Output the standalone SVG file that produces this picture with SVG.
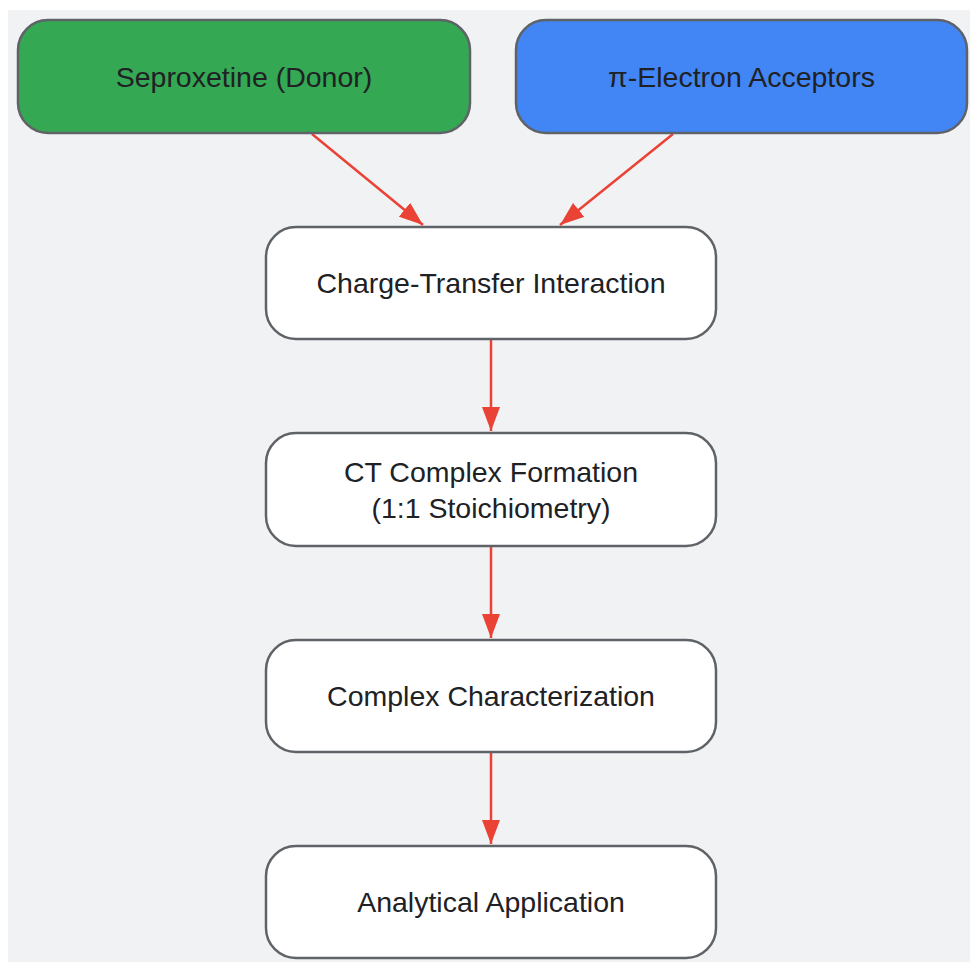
<svg xmlns="http://www.w3.org/2000/svg" width="970" height="962" viewBox="0 0 970 962">
<style>
.node rect{stroke:#5f6368;stroke-width:2.5}
.plain rect{fill:#ffffff}
text{font-family:"Liberation Sans",Arial,sans-serif;font-size:28.5px;fill:#202124;text-anchor:middle}
.edge{stroke:#ea4335;stroke-width:2.5;fill:none}
</style>
<defs>
<marker id="ah" markerUnits="userSpaceOnUse" markerWidth="24" markerHeight="18" refX="24" refY="9" orient="auto">
<path d="M0,0 L24,9 L0,18 z" fill="#ea4335"/>
</marker>
</defs>
<rect x="8" y="10" width="962" height="952" fill="#f1f2f4"/>
<g id="connectors">
<line class="edge" x1="312" y1="134" x2="423" y2="225" marker-end="url(#ah)"/>
<line class="edge" x1="673" y1="134" x2="560" y2="225" marker-end="url(#ah)"/>
<line class="edge" x1="491" y1="340" x2="491" y2="431" marker-end="url(#ah)"/>
<line class="edge" x1="491" y1="546" x2="491" y2="638" marker-end="url(#ah)"/>
<line class="edge" x1="491" y1="753" x2="491" y2="844" marker-end="url(#ah)"/>
</g>
<g id="donor" class="node">
<rect x="18" y="20" width="452" height="113" rx="30" fill="#34a853"/>
<text x="244" y="86.5">Seproxetine (Donor)</text>
</g>
<g id="acceptors" class="node">
<rect x="516" y="20" width="451" height="113" rx="30" fill="#4285f4"/>
<text x="741.5" y="86.5">π-Electron Acceptors</text>
</g>
<g id="interaction" class="node plain">
<rect x="266" y="227" width="450" height="112" rx="30"/>
<text x="491" y="293">Charge-Transfer Interaction</text>
</g>
<g id="formation" class="node plain">
<rect x="266" y="433" width="450" height="113" rx="30"/>
<text x="491" y="482">CT Complex Formation</text>
<text x="491" y="518">(1:1 Stoichiometry)</text>
</g>
<g id="characterization" class="node plain">
<rect x="266" y="640" width="450" height="112" rx="30"/>
<text x="491" y="705.5">Complex Characterization</text>
</g>
<g id="application" class="node plain">
<rect x="266" y="846" width="450" height="112" rx="30"/>
<text x="491" y="912">Analytical Application</text>
</g>
</svg>
